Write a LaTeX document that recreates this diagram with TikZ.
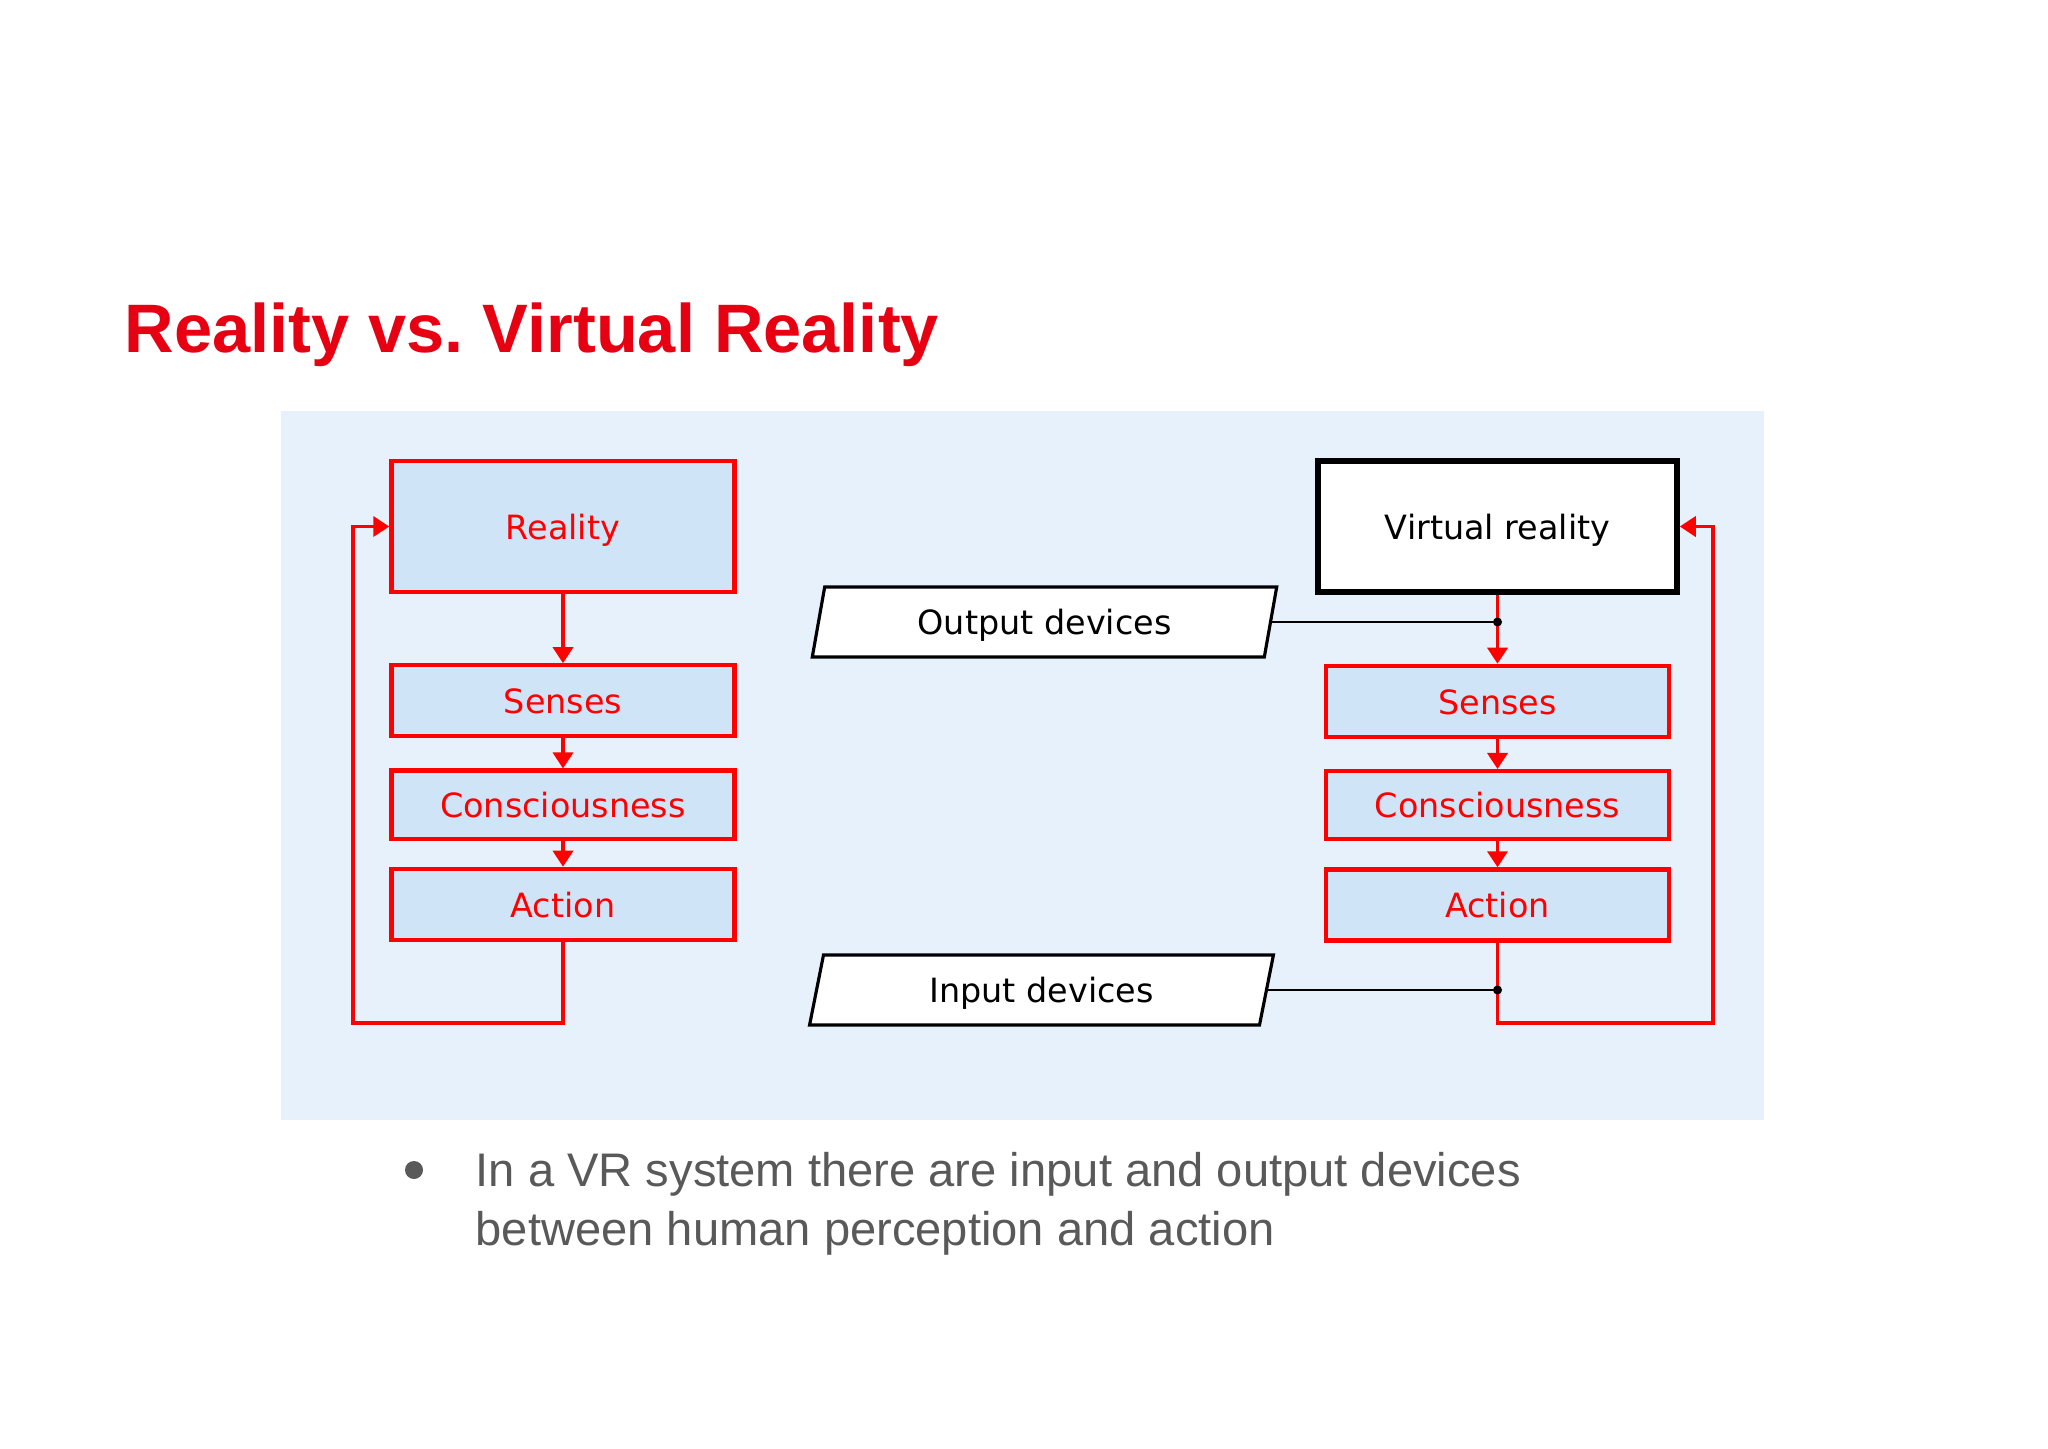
\documentclass[tikz,border=0pt]{standalone}
\usepackage{fontspec}
\setmainfont{Liberation Sans}
\newfontfamily\boxfont{DejaVu Sans}
\usepackage{xcolor}
\usepackage{tikz}
\usetikzlibrary{arrows.meta,positioning,calc,shapes.geometric}
\definecolor{panelblue}{RGB}{230,241,251}
\definecolor{boxblue}{RGB}{208,228,248}
\definecolor{titlered}{RGB}{230,0,18}
\definecolor{textgray}{RGB}{89,89,89}
\frenchspacing

\begin{document}
\begin{tikzpicture}[x=0.01cm,y=-0.01cm,>={Triangle[width=0.2cm,length=0.16cm]},
  labelfont/.style={font=\boxfont\fontsize{9.5pt}{11pt}\selectfont,text height=0.74em,text depth=0.02em},
  redbox/.style={draw=red,line width=1.2pt,fill=boxblue,text=red,inner sep=0pt,
    minimum width=3.43cm,minimum height=0.71cm,labelfont},
  iobox/.style={trapezium,trapezium left angle=75,trapezium right angle=105,trapezium stretches=true,
    draw,line width=0.9pt,fill=white,inner sep=0pt,minimum width=4.65cm,minimum height=0.7cm,labelfont},
  redline/.style={red,line width=1pt},
  blackline/.style={black,line width=0.8pt}]
  \useasboundingbox (0,0) rectangle (2048,1448);
  \fill[white] (0,0) rectangle (2048,1448);
  \fill[panelblue] (281,411) rectangle (1764,1120);
  \node[anchor=base west,inner sep=0pt,text=titlered,font=\bfseries\fontsize{19.5pt}{23pt}\selectfont] (title) at (124,352) {Reality vs. Virtual Reality};

  \node[redbox,minimum height=1.31cm] (reality) at (563,526.5) {Reality};
  \node[redbox,below=0.69cm of reality] (sensesL) {Senses};
  \node[redbox,below=0.3cm of sensesL,minimum height=0.68cm] (consL) {Consciousness};
  \node[redbox,below=0.26cm of consL] (actL) {Action};

  \node[draw,line width=1.5pt,fill=white,inner sep=0pt,minimum width=3.59cm,minimum height=1.31cm,
    labelfont] (vr) at (1497.5,526.5) {Virtual reality};
  \node[redbox,below=0.69cm of vr] (sensesR) {Senses};
  \node[redbox,below=0.3cm of sensesR,minimum height=0.68cm] (consR) {Consciousness};
  \node[redbox,below=0.26cm of consR] (actR) {Action};

  \node[iobox] (outdev) at (1044.5,622) {Output devices};
  \node[iobox] (indev) at (1041.5,990) {Input devices};

  \foreach \a/\b in {reality/sensesL,sensesL/consL,consL/actL,vr/sensesR,sensesR/consR,consR/actR}
     \draw[redline,->] (\a.south) -- (\b.north);

  \coordinate (outjoin) at (vr.south |- outdev.east);
  \coordinate (injoin) at (actR.south |- indev.east);
  \coordinate (loopL) at (353,1023);
  \coordinate (loopR) at (1713,1023);
  \draw[redline,->] (actL.south) |- (loopL) |- (reality.west);
  \draw[redline,->] (actR.south) |- (loopR) |- (vr.east);
  \draw[blackline] (outdev.east) -- (outjoin);
  \draw[blackline] (indev.east) -- (injoin);
  \foreach \pt in {outjoin,injoin} \fill (\pt) circle (0.045cm);

  \fill[textgray] (414,1170) circle (0.09cm);
  \node[anchor=base west,inner sep=0pt,text=textgray,font=\fontsize{13.4pt}{16pt}\selectfont] (lineA) at (475,1186) {In a VR system there are input and output devices};
  \node[anchor=base west,inner sep=0pt,text=textgray,font=\fontsize{13.4pt}{16pt}\selectfont] (lineB) at (475,1245) {between human perception and action};
\end{tikzpicture}
\end{document}
